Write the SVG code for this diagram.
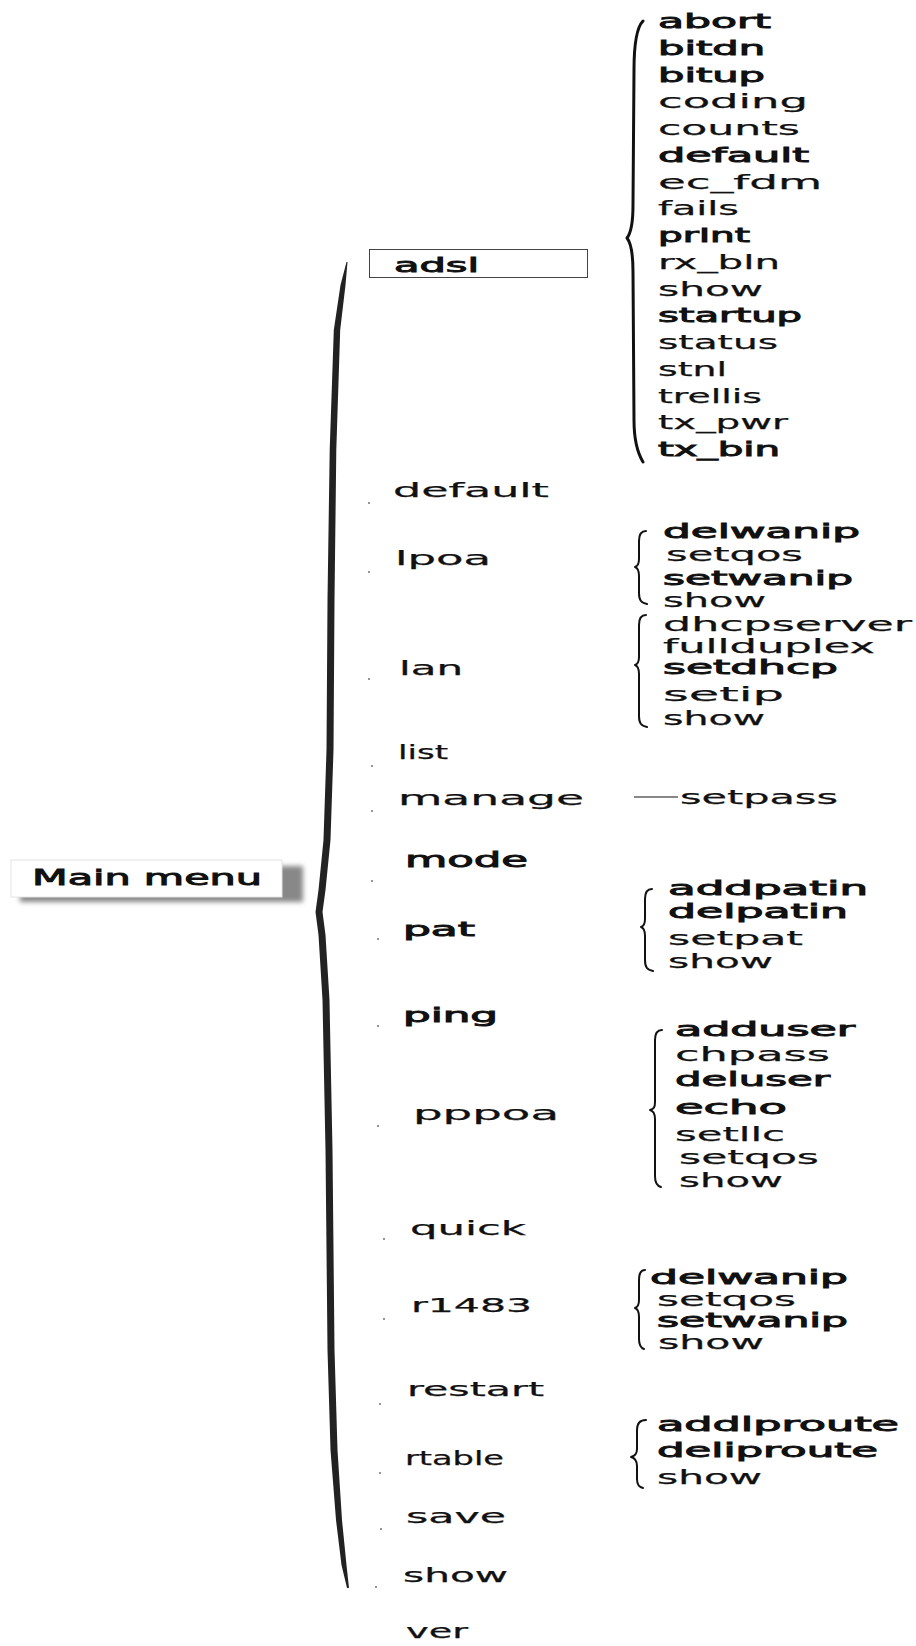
<svg xmlns="http://www.w3.org/2000/svg" width="916" height="1646" viewBox="0 0 916 1646">
<style>
text{font-family:"DejaVu Sans","Liberation Sans",sans-serif;font-size:20px;fill:#111;stroke:#111;stroke-width:0.25}
.b{stroke-width:0.9}
.big{font-size:22px}
.br{fill:none;stroke:#111;stroke-width:2;stroke-linecap:round;stroke-linejoin:round}
.dot{fill:#111}
</style>
<defs>
<filter id="blur" x="-10%" y="-30%" width="120%" height="160%"><feGaussianBlur stdDeviation="2.5"/></filter>
</defs>
<rect width="916" height="1646" fill="#fff"/>

<g id="connectors">
<path d="M346.5,262 L340.5,285 L333.8,330 L329.7,450 L327.5,600 L326.5,750 L323.5,840 L318.5,890 L315.5,912 L318.5,935 L322.5,1000 L325.5,1150 L327.5,1350 L330.5,1450 L336,1520 L341.5,1565 L347,1588 L349,1588 L346.5,1565 L342,1520 L337.5,1450 L334.5,1350 L332.5,1150 L329.5,1000 L325.5,935 L322.5,912 L325.5,890 L330.5,840 L333.5,750 L334.5,600 L336.3,450 L340.2,330 L345.5,285 L347.5,262 Z" fill="#222"/>
<path class="br" style="stroke-width:3" d="M643,21 C636,28 634,45 634,70 L633,205 C633,225 631,233 627,238 C631,243 633,252 633,272 L634,420 C634,440 637,452 643,462"/>
<path class="br" d="M646,531 C641,531 639,534 639,541 L639,559 C639,564 638,566 635,567 C638,568 639,571 639,576 L639,593 C639,600 641,603 647,604"/>
<path class="br" d="M646,615 C641,615 639,618 639,625 L639,657 C639,662 638,664 635,665 C638,666 639,669 639,674 L639,716 C639,723 641,726 647,727"/>
<path class="br" d="M652,889 C647,889 645,892 645,899 L645,919 C645,924 644,926 641,927 C644,928 645,931 645,936 L645,960 C645,967 647,970 653,971"/>
<path class="br" d="M662,1030 C657,1030 655,1033 655,1040 L655,1102 C655,1107 654,1109 650,1110 C654,1111 655,1114 655,1119 L655,1176 C655,1183 657,1186 661,1187"/>
<path class="br" d="M645,1270 C641,1270 639,1273 639,1280 L639,1300 C639,1305 638,1307 635,1308 C638,1309 639,1312 639,1317 L639,1339 C639,1346 641,1348 644,1349"/>
<path class="br" d="M646,1420 C640,1420 637,1423 637,1430 L637,1449 C637,1454 635,1456 631,1457 C635,1458 637,1461 637,1466 L637,1479 C637,1485 639,1487 643,1488"/>
<line x1="634" y1="797" x2="678" y2="797" stroke="#111" stroke-width="1"/>
<g class="dot">
<circle cx="369" cy="503" r="0.8"/><circle cx="369" cy="572" r="0.8"/><circle cx="369" cy="679" r="0.8"/>
<circle cx="372" cy="766" r="0.8"/><circle cx="372" cy="811" r="0.8"/><circle cx="372" cy="881" r="0.8"/>
<circle cx="378" cy="939" r="0.8"/><circle cx="378" cy="1026" r="0.8"/><circle cx="378" cy="1126" r="0.8"/>
<circle cx="384" cy="1239" r="0.8"/><circle cx="384" cy="1319" r="0.8"/><circle cx="380" cy="1404" r="0.8"/>
<circle cx="380" cy="1473" r="0.8"/><circle cx="381" cy="1529" r="0.8"/><circle cx="376" cy="1587" r="0.8"/>
</g>
</g>

<g id="main-menu">
<rect x="20" y="866" width="283" height="36" fill="#888" filter="url(#blur)"/>
<rect x="11" y="860" width="271" height="37" fill="#fff" stroke="#e4e4e4" stroke-width="1"/>
<text class="b big" x="32" y="885" textLength="230" lengthAdjust="spacingAndGlyphs">Main menu</text>
</g>

<g id="adsl">
<rect x="369.5" y="249.5" width="218" height="28" fill="#fff" stroke="#444" stroke-width="1"/>
<text class="b" x="394" y="272" textLength="85" lengthAdjust="spacingAndGlyphs">adsl</text>
</g>
<g id="adsl-sub">
<text class="b" x="658" y="28" textLength="113" lengthAdjust="spacingAndGlyphs">abort</text>
<text class="b" x="658" y="54.75" textLength="107" lengthAdjust="spacingAndGlyphs">bitdn</text>
<text class="b" x="658" y="81.5" textLength="107" lengthAdjust="spacingAndGlyphs">bitup</text>
<text x="658" y="108.25" textLength="150" lengthAdjust="spacingAndGlyphs">coding</text>
<text x="658" y="135" textLength="142" lengthAdjust="spacingAndGlyphs">counts</text>
<text class="b" x="658" y="161.75" textLength="151" lengthAdjust="spacingAndGlyphs">default</text>
<text x="658" y="188.5" textLength="164" lengthAdjust="spacingAndGlyphs">ec_fdm</text>
<text x="658" y="215.25" textLength="81" lengthAdjust="spacingAndGlyphs">fails</text>
<text class="b" x="658" y="242" textLength="92" lengthAdjust="spacingAndGlyphs">prInt</text>
<text x="658" y="268.75" textLength="122" lengthAdjust="spacingAndGlyphs">rx_bln</text>
<text x="658" y="295.5" textLength="105" lengthAdjust="spacingAndGlyphs">show</text>
<text class="b" x="658" y="322.25" textLength="144" lengthAdjust="spacingAndGlyphs">startup</text>
<text x="658" y="349" textLength="120" lengthAdjust="spacingAndGlyphs">status</text>
<text x="658" y="375.75" textLength="69" lengthAdjust="spacingAndGlyphs">stnl</text>
<text x="658" y="402.5" textLength="104" lengthAdjust="spacingAndGlyphs">trellis</text>
<text x="658" y="429.25" textLength="130" lengthAdjust="spacingAndGlyphs">tx_pwr</text>
<text class="b" x="658" y="456" textLength="122" lengthAdjust="spacingAndGlyphs">tx_bin</text>
</g>

<g id="default"><text x="393" y="497" textLength="156" lengthAdjust="spacingAndGlyphs">default</text></g>

<g id="lpoa"><text x="395" y="565" textLength="96" lengthAdjust="spacingAndGlyphs">lpoa</text></g>
<g id="lpoa-sub">
<text class="b" x="663" y="538" textLength="197" lengthAdjust="spacingAndGlyphs">delwanip</text>
<text x="666" y="561" textLength="137" lengthAdjust="spacingAndGlyphs">setqos</text>
<text class="b" x="663" y="585" textLength="190" lengthAdjust="spacingAndGlyphs">setwanip</text>
<text x="663" y="607" textLength="103" lengthAdjust="spacingAndGlyphs">show</text>
</g>

<g id="lan"><text x="399" y="675" textLength="64" lengthAdjust="spacingAndGlyphs">lan</text></g>
<g id="lan-sub">
<text x="663" y="631" textLength="249" lengthAdjust="spacingAndGlyphs">dhcpserver</text>
<text x="663" y="653" textLength="212" lengthAdjust="spacingAndGlyphs">fullduplex</text>
<text class="b" x="663" y="674" textLength="175" lengthAdjust="spacingAndGlyphs">setdhcp</text>
<text x="663" y="701" textLength="121" lengthAdjust="spacingAndGlyphs">setip</text>
<text x="663" y="725" textLength="102" lengthAdjust="spacingAndGlyphs">show</text>
</g>

<g id="list"><text x="398" y="759" textLength="50" lengthAdjust="spacingAndGlyphs">list</text></g>

<g id="manage"><text x="398" y="805" textLength="186" lengthAdjust="spacingAndGlyphs">manage</text></g>
<g id="manage-sub"><text x="680" y="804" textLength="158" lengthAdjust="spacingAndGlyphs">setpass</text></g>

<g id="mode"><text class="b big" x="405" y="867" textLength="123" lengthAdjust="spacingAndGlyphs">mode</text></g>

<g id="pat"><text class="b" x="403" y="936" textLength="72" lengthAdjust="spacingAndGlyphs">pat</text></g>
<g id="pat-sub">
<text class="b" x="668" y="895" textLength="200" lengthAdjust="spacingAndGlyphs">addpatin</text>
<text class="b" x="668" y="918" textLength="180" lengthAdjust="spacingAndGlyphs">delpatin</text>
<text x="668" y="945" textLength="135" lengthAdjust="spacingAndGlyphs">setpat</text>
<text x="668" y="968" textLength="105" lengthAdjust="spacingAndGlyphs">show</text>
</g>

<g id="ping"><text class="b" x="403" y="1022" textLength="95" lengthAdjust="spacingAndGlyphs">ping</text></g>

<g id="pppoa"><text x="413" y="1120" textLength="146" lengthAdjust="spacingAndGlyphs">pppoa</text></g>
<g id="pppoa-sub">
<text class="b" x="675" y="1036" textLength="180" lengthAdjust="spacingAndGlyphs">adduser</text>
<text x="675" y="1061" textLength="155" lengthAdjust="spacingAndGlyphs">chpass</text>
<text class="b" x="675" y="1086" textLength="155" lengthAdjust="spacingAndGlyphs">deluser</text>
<text class="b" x="675" y="1114" textLength="112" lengthAdjust="spacingAndGlyphs">echo</text>
<text x="675" y="1141" textLength="110" lengthAdjust="spacingAndGlyphs">setllc</text>
<text x="679" y="1164" textLength="140" lengthAdjust="spacingAndGlyphs">setqos</text>
<text x="679" y="1187" textLength="104" lengthAdjust="spacingAndGlyphs">show</text>
</g>

<g id="quick"><text x="410" y="1235" textLength="116" lengthAdjust="spacingAndGlyphs">quick</text></g>

<g id="r1483"><text x="411" y="1312" textLength="121" lengthAdjust="spacingAndGlyphs">r1483</text></g>
<g id="r1483-sub">
<text class="b" x="650" y="1284" textLength="198" lengthAdjust="spacingAndGlyphs">delwanip</text>
<text x="657" y="1306" textLength="139" lengthAdjust="spacingAndGlyphs">setqos</text>
<text class="b" x="657" y="1327" textLength="191" lengthAdjust="spacingAndGlyphs">setwanip</text>
<text x="658" y="1349" textLength="106" lengthAdjust="spacingAndGlyphs">show</text>
</g>

<g id="restart"><text x="407" y="1396" textLength="137" lengthAdjust="spacingAndGlyphs">restart</text></g>

<g id="rtable"><text x="405" y="1465" textLength="99" lengthAdjust="spacingAndGlyphs">rtable</text></g>
<g id="rtable-sub">
<text class="b" x="657" y="1431" textLength="242" lengthAdjust="spacingAndGlyphs">addlproute</text>
<text class="b" x="657" y="1457" textLength="221" lengthAdjust="spacingAndGlyphs">deliproute</text>
<text x="657" y="1484" textLength="105" lengthAdjust="spacingAndGlyphs">show</text>
</g>

<g id="save"><text x="406" y="1523" textLength="100" lengthAdjust="spacingAndGlyphs">save</text></g>
<g id="show"><text x="403" y="1582" textLength="105" lengthAdjust="spacingAndGlyphs">show</text></g>
<g id="ver"><text x="406" y="1638" textLength="62" lengthAdjust="spacingAndGlyphs">ver</text></g>
</svg>
